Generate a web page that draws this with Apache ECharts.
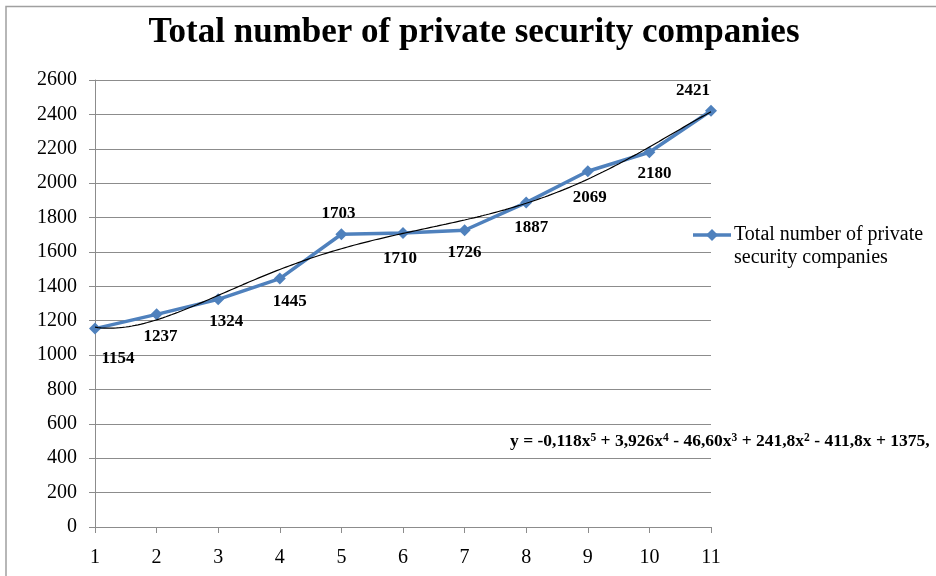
<!DOCTYPE html>
<html>
<head>
<meta charset="utf-8">
<script src="https://cdn.jsdelivr.net/npm/echarts@6/dist/echarts.min.js"></script>
<style>
  html, body { margin: 0; padding: 0; background: #fff; }
  #chart { width: 936px; height: 576px; }
</style>
</head>
<body>
<div id="chart"></div>
<script>
// Years of observation (1..11) and the company counts for each
const years = [1, 2, 3, 4, 5, 6, 7, 8, 9, 10, 11];
const companies = [1154, 1237, 1324, 1445, 1703, 1710, 1726, 1887, 2069, 2180, 2421];
const yTicks = [0, 200, 400, 600, 800, 1000, 1200, 1400, 1600, 1800, 2000, 2200, 2400, 2600];
const seriesName = 'Total number of private security companies';
const equationParts = [
  ['y = -0,118x', '5'], [' + 3,926x', '4'], [' - 46,60x', '3'],
  [' + 241,8x', '2'], [' - 411,8x + 1375,', '']
];

// Where each value label sits relative to its marker (centre offset, px)
const labelOffsets = [
  [23, 30], [4, 22], [8, 22], [10, 23], [-3, -21], [-3, 26],
  [0, 22], [5, 25], [2, 26], [5, 21], [-18, -20]
];

// Least-squares polynomial (degree 5) trendline through the data
function polyFit(xs, ys, deg) {
  const cx = 6, sx = 5;
  const n = deg + 1;
  const A = Array.from({ length: n }, () => new Array(n + 1).fill(0));
  xs.forEach((x, k) => {
    const t = (x - cx) / sx;
    const p = [];
    for (let i = 0; i < n; i++) p.push(Math.pow(t, i));
    for (let i = 0; i < n; i++) {
      for (let j = 0; j < n; j++) A[i][j] += p[i] * p[j];
      A[i][n] += p[i] * ys[k];
    }
  });
  for (let c = 0; c < n; c++) {
    let piv = c;
    for (let r = c + 1; r < n; r++) if (Math.abs(A[r][c]) > Math.abs(A[piv][c])) piv = r;
    [A[c], A[piv]] = [A[piv], A[c]];
    for (let r = 0; r < n; r++) {
      if (r === c) continue;
      const f = A[r][c] / A[c][c];
      for (let k = c; k <= n; k++) A[r][k] -= f * A[c][k];
    }
  }
  const coef = A.map((row, i) => row[n] / row[i]);
  return x => {
    const t = (x - cx) / sx;
    return coef.reduce((s, c, i) => s + c * Math.pow(t, i), 0);
  };
}
const trend = polyFit(years, companies, 5);
const trendPts = [];
for (let x = 1; x <= 11.0001; x += 0.05) trendPts.push([x, trend(x)]);

const serif = '"Liberation Serif", "Times New Roman", serif';
const gray = '#8c8c8c';

const chart = echarts.init(document.getElementById('chart'), null, { renderer: 'canvas' });

const eqRich = { b: { fontFamily: serif, fontWeight: 'bold', fontSize: 17.5, color: '#000' },
                 s: { fontFamily: serif, fontWeight: 'bold', fontSize: 11.5, color: '#000', verticalAlign: 'top', padding: [0, 0, 7, 0] } };
const eqText = equationParts.map(([a, b]) => '{b|' + a + '}' + (b ? '{s|' + b + '}' : '')).join('');

chart.setOption({
  animation: false,
  backgroundColor: '#fff',
  title: {
    text: 'Total number of private security companies',
    left: 469, top: 10, textAlign: 'center',
    textStyle: { fontFamily: serif, fontWeight: 'bold', fontSize: 35, color: '#000' }
  },
  grid: { left: 95, top: 80, width: 616, height: 447, containLabel: false },
  xAxis: {
    type: 'value', min: 1, max: 11, interval: 1,
    axisLine: { lineStyle: { color: gray, width: 1 } },
    axisTick: { show: true, length: 6, inside: false, lineStyle: { color: gray } },
    splitLine: { show: false },
    axisLabel: { margin: 21, fontFamily: serif, fontSize: 20, color: '#000' }
  },
  yAxis: {
    type: 'value', min: 0, max: 2600, interval: 200,
    axisLine: { show: true, lineStyle: { color: gray, width: 1 } },
    axisTick: { show: true, length: 6, lineStyle: { color: gray } },
    splitLine: { show: true, lineStyle: { color: gray, width: 1 } },
    axisLabel: { margin: 18, fontFamily: serif, fontSize: 20, color: '#000',
                 formatter: v => yTicks.includes(v) ? String(v) : '' }
  },
  series: [
    {
      name: 'trend', type: 'line', data: trendPts, showSymbol: false, smooth: false,
      lineStyle: { color: '#000', width: 1.2 }, z: 3, silent: true
    },
    {
      name: seriesName, type: 'line',
      data: years.map((x, i) => ({
        value: [x, companies[i]],
        label: { offset: labelOffsets[i] }
      })),
      symbol: 'diamond', symbolSize: 12,
      lineStyle: { color: '#4f81bd', width: 3.5 },
      itemStyle: { color: '#4f81bd' },
      z: 2,
      label: {
        show: true, position: 'inside',
        formatter: p => String(p.value[1]),
        fontFamily: serif, fontWeight: 'bold', fontSize: 17, color: '#000'
      }
    }
  ],
  graphic: [
    // outer chart-area frame
    { type: 'polyline', shape: { points: [[6, 580], [6, 6.5], [940, 6.5]] },
      style: { stroke: '#a0a0a0', lineWidth: 1.5, fill: null } },
    // legend entry
    { type: 'line', shape: { x1: 693, y1: 235, x2: 731, y2: 235 },
      style: { stroke: '#4f81bd', lineWidth: 3.5 } },
    { type: 'polygon', shape: { points: [[712, 229], [718, 235], [712, 241], [706, 235]] },
      style: { fill: '#4f81bd' } },
    { type: 'text', left: 734, top: 223,
      style: { text: 'Total number of private\nsecurity companies', fontFamily: serif, fontSize: 20,
               lineHeight: 23, fill: '#000' } },
    // trendline equation
    { type: 'text', left: 510, top: 432,
      style: { text: eqText, rich: eqRich } }
  ]
});
</script>
</body>
</html>
